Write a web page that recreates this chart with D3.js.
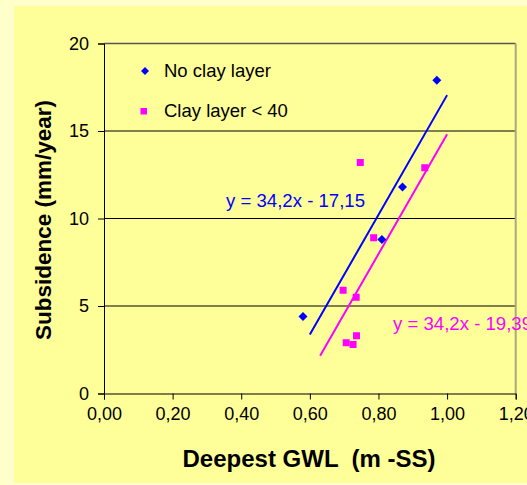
<!DOCTYPE html>
<html>
<head>
<meta charset="utf-8">
<script src="https://cdn.jsdelivr.net/npm/d3@7"></script>
<style>
  body { margin: 0; background: #FFFFCC; }
  svg { display: block; font-family: "Liberation Sans", Arial, sans-serif; }
</style>
</head>
<body>
<div id="chart"></div>
<script>
// Data
const seriesNames = ["No clay layer", "Clay layer < 40"];
const noClayX = [0.58, 0.81, 0.87, 0.97];
const noClayY = [4.4, 8.8, 11.8, 17.9];
const clayX = [0.747, 0.935, 0.786, 0.697, 0.735, 0.736, 0.706, 0.726];
const clayY = [13.2, 12.9, 8.9, 5.9, 5.5, 3.3, 2.9, 2.8];

// Trend lines (slope, intercept, x range)
const trendSlope = [34.2, 34.2];
const trendIntercept = [-17.15, -19.39];
const trendFrom = [0.6, 0.63];
const trendTo = [1.0, 1.0];
const trendLabels = ["y = 34,2x - 17,15", "y = 34,2x - 19,39"];

const xTicks = [0, 0.2, 0.4, 0.6, 0.8, 1.0, 1.2];
const yTicks = [0, 5, 10, 15, 20];

const width = 527, height = 485;
const margins = {top: 43.5, right: 11.3, bottom: 91.5, left: 104};
const colors = ["#0000FF", "#FF00FF"];

const svg = d3.select("#chart")
  .append("svg")
  .attr("width", width)
  .attr("height", height);

// Backgrounds
svg.append("rect")
  .attr("width", width).attr("height", height)
  .attr("fill", "#FFFFCC");
svg.append("rect")
  .attr("x", 14).attr("y", 6)
  .attr("width", width - 14).attr("height", 477)
  .attr("fill", "#FFFF99");

const xScale = d3.scaleLinear()
  .domain([0, 1.2])
  .range([margins.left, width - margins.right]);

const yScale = d3.scaleLinear()
  .domain([0, 20])
  .range([height - margins.bottom, margins.top]);

// Gridlines
svg.append("g")
  .selectAll("line")
  .data(yTicks.filter(d => d > 0 && d < 20))
  .join("line")
    .attr("x1", xScale(0)).attr("x2", xScale(1.2))
    .attr("y1", d => yScale(d)).attr("y2", d => yScale(d))
    .attr("stroke", "#000").attr("stroke-width", 1);

// Plot area border (top + right)
svg.append("line")
  .attr("x1", xScale(0)).attr("x2", xScale(1.2))
  .attr("y1", yScale(20)).attr("y2", yScale(20))
  .attr("stroke", "#555").attr("stroke-width", 1.5);
svg.append("line")
  .attr("x1", xScale(1.2)).attr("x2", xScale(1.2))
  .attr("y1", yScale(20)).attr("y2", yScale(0))
  .attr("stroke", "#A8A878").attr("stroke-width", 2);

// Axes
const xAxis = d3.axisBottom(xScale)
  .tickValues(xTicks)
  .tickSize(6)
  .tickPadding(8)
  .tickFormat(d => d3.format(".2f")(d).replace(".", ","));

svg.append("g")
  .attr("transform", `translate(0, ${yScale(0)})`)
  .call(xAxis)
  .call(g => g.selectAll("text").attr("font-size", 18).attr("font-family", null).attr("fill", "#000"))
  .call(g => g.selectAll("line, path").attr("stroke", "#000"));

const yAxis = d3.axisLeft(yScale)
  .tickValues(yTicks)
  .tickSize(6)
  .tickPadding(9);

svg.append("g")
  .attr("transform", `translate(${xScale(0)}, 0)`)
  .call(yAxis)
  .call(g => g.selectAll("text").attr("font-size", 18).attr("font-family", null).attr("fill", "#000"))
  .call(g => g.selectAll("line, path").attr("stroke", "#000"));

// Trend lines
const trends = trendSlope.map((s, i) => ({
  i: i,
  pts: [trendFrom[i], trendTo[i]].map(x => [x, s * x + trendIntercept[i]])
}));
const line = d3.line()
  .x(d => xScale(d[0]))
  .y(d => yScale(d[1]));

svg.append("g")
  .selectAll("path")
  .data(trends)
  .join("path")
    .attr("d", d => line(d.pts))
    .attr("fill", "none")
    .attr("stroke", d => colors[d.i])
    .attr("stroke-width", 2);

// Points
const noClay = noClayX.map((x, i) => ({x: x, y: noClayY[i]}));
const clay = clayX.map((x, i) => ({x: x, y: clayY[i]}));

svg.append("g")
  .selectAll("path")
  .data(noClay)
  .join("path")
    .attr("transform", d => `translate(${xScale(d.x)}, ${yScale(d.y)})`)
    .attr("d", "M0,-4.5L4.5,0L0,4.5L-4.5,0Z")
    .attr("fill", colors[0]);

svg.append("g")
  .selectAll("rect")
  .data(clay)
  .join("rect")
    .attr("x", d => xScale(d.x) - 3.5)
    .attr("y", d => yScale(d.y) - 3.5)
    .attr("width", 7).attr("height", 7)
    .attr("fill", colors[1]);

// Equation labels
svg.append("text")
  .attr("x", 226).attr("y", 200)
  .attr("dy", "0.35em")
  .attr("font-size", 18.6)
  .attr("fill", colors[0])
  .text(trendLabels[0]);

svg.append("text")
  .attr("x", 393).attr("y", 323)
  .attr("dy", "0.35em")
  .attr("font-size", 18.6)
  .attr("fill", colors[1])
  .text(trendLabels[1]);

// Legend
const legend = svg.append("g");
legend.append("path")
  .attr("transform", "translate(145, 71)")
  .attr("d", "M0,-4L4,0L0,4L-4,0Z")
  .attr("fill", colors[0]);
legend.append("rect")
  .attr("x", 140.5).attr("y", 108)
  .attr("width", 6.5).attr("height", 6.5)
  .attr("fill", colors[1]);
legend.selectAll("text")
  .data(seriesNames)
  .join("text")
    .attr("x", 164)
    .attr("y", (d, i) => 71 + i * 40)
    .attr("dy", "0.35em")
    .attr("font-size", 18.5)
    .attr("fill", "#000")
    .text(d => d);

// Axis titles
svg.append("text")
  .attr("x", 309).attr("y", 459)
  .attr("dy", "0.35em")
  .attr("text-anchor", "middle")
  .attr("font-size", 24)
  .attr("font-weight", "bold")
  .style("white-space", "pre")
  .text("Deepest GWL  (m -SS)");

svg.append("text")
  .attr("transform", "translate(43, 220) rotate(-90)")
  .attr("dy", "0.35em")
  .attr("text-anchor", "middle")
  .attr("font-size", 22.5)
  .attr("font-weight", "bold")
  .text("Subsidence (mm/year)");
</script>
</body>
</html>
